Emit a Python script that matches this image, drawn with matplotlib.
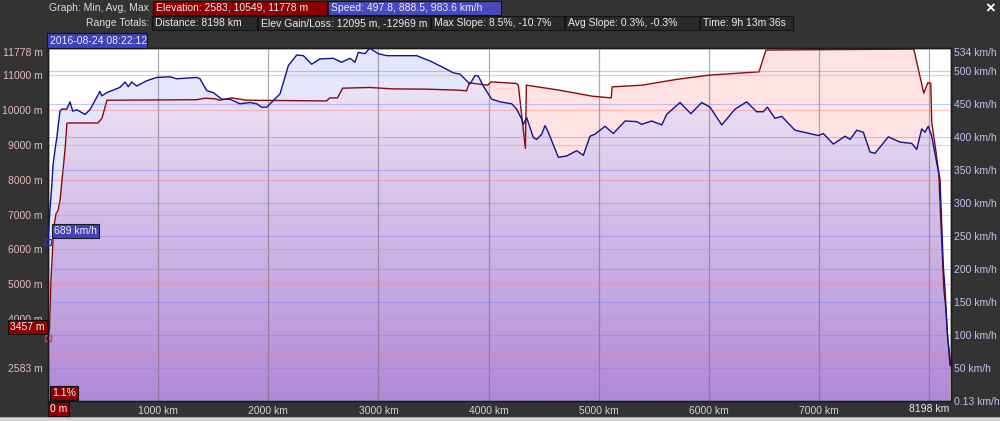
import numpy as np
import matplotlib
matplotlib.use("Agg")
import matplotlib.pyplot as plt
from matplotlib.patches import Rectangle

plt.rcParams['font.family'] = ['Liberation Sans', 'DejaVu Sans']
FS = 7.5

# ---------------------------------------------------------------
# Data (distance in km)
# ---------------------------------------------------------------
elev_dist = [0, 14, 27, 52, 73, 91, 109, 154, 172, 181, 453, 490, 535, 1351, 1423,
             1514, 1559, 1668, 1804, 2529, 2557, 2629, 2674, 2919, 3128, 3436, 3735,
             3799, 3826, 3989, 4025, 4252, 4270, 4334, 4343, 4642, 4941, 5113, 5122,
             5394, 5703, 6002, 6455, 6518, 7860, 7951, 7987, 8014, 8023, 8060, 8087,
             8105, 8114, 8132, 8150, 8168, 8198]
elev_m = [3457, 3742, 5097, 6626, 7030, 7116, 7404, 8846, 9625, 9634, 9634, 9769,
          10288, 10303, 10346, 10331, 10288, 10355, 10288, 10268, 10355, 10355, 10634,
          10655, 10614, 10606, 10577, 10557, 10787, 10721, 10816, 10770, 10721, 8904,
          10721, 10577, 10404, 10355, 10672, 10721, 10885, 11009, 11105, 11730, 11759,
          10490, 10787, 10779, 9663, 8846, 8183, 6828, 6251, 4895, 4319, 3453, 2650]

speed_dist = [0, 18, 34, 45, 64, 82, 94, 109, 124, 170, 200, 224, 261, 336, 381, 427,
              472, 488, 533, 654, 699, 729, 760, 805, 896, 987, 1108, 1168, 1350, 1380,
              1441, 1501, 1577, 1652, 1743, 1834, 1895, 1940, 1986, 2046, 2106, 2182,
              2258, 2318, 2394, 2469, 2590, 2666, 2742, 2787, 2817, 2878, 2908, 2923,
              2999, 3075, 3347, 3468, 3589, 3680, 3741, 3801, 3831, 3877, 3907, 3952,
              4028, 4104, 4210, 4255, 4300, 4315, 4346, 4406, 4436, 4482, 4512, 4542,
              4633, 4709, 4800, 4860, 4921, 4966, 5057, 5132, 5239, 5345, 5390, 5481,
              5572, 5617, 5738, 5836, 5935, 6010, 6117, 6237, 6343, 6434, 6494, 6531,
              6600, 6661, 6782, 6993, 7039, 7130, 7236, 7281, 7342, 7402, 7463, 7508,
              7629, 7735, 7842, 7887, 7932, 7962, 7992, 8023, 8068, 8098, 8114, 8128,
              8144, 8165, 8189]
speed_kmh = [240, 290, 325, 356, 381, 401, 419, 439, 442, 442, 453, 439, 441, 434, 441,
             455, 469, 462, 467, 475, 483, 476, 483, 477, 485, 490, 491, 488, 490, 488,
             470, 467, 457, 457, 450, 452, 450, 445, 445, 455, 465, 508, 524, 523, 510,
             518, 519, 513, 519, 513, 528, 526, 532, 534, 526, 523, 523, 515, 505, 497,
             495, 485, 480, 493, 492, 477, 457, 453, 450, 442, 427, 419, 429, 399, 396,
             404, 417, 407, 369, 371, 379, 372, 401, 404, 416, 405, 424, 423, 419, 424,
             418, 434, 452, 435, 452, 445, 418, 442, 453, 438, 438, 445, 428, 431, 410,
             402, 405, 389, 401, 396, 410, 407, 377, 375, 400, 392, 390, 381, 412, 407,
             416, 401, 361, 336, 265, 204, 168, 103, 54]

dist_max = 8198
elev_lim = (1650, 11778)
speed_lim = (0.13, 534)

elev_ticks = [2583, 3000, 4000, 5000, 6000, 7000, 8000, 9000, 10000, 11000, 11778]
elev_ticklabels = ['2583 m', '', '4000 m', '5000 m', '6000 m', '7000 m', '8000 m',
                   '9000 m', '10000 m', '11000 m', '11778 m']
speed_ticks = [0.13, 50, 100, 150, 200, 250, 300, 350, 400, 450, 500, 534]
speed_ticklabels = ['0.13 km/h', '50 km/h', '100 km/h', '150 km/h', '200 km/h',
                    '250 km/h', '300 km/h', '350 km/h', '400 km/h', '450 km/h',
                    '500 km/h', '534 km/h']
dist_ticks = [1000, 2000, 3000, 4000, 5000, 6000, 7000, 8000]
dist_ticklabels = ['1000 km', '2000 km', '3000 km', '4000 km', '5000 km', '6000 km',
                   '7000 km', '']

cursor_elev = 3457
cursor_speed = 240          # where the speed marker sits on the speed axis
cursor_speed_text = '689 km/h'
cursor_slope_text = '1.1%'
cursor_time_text = '2016-08-24 08:22:12'

header_stats = [('Elevation: 2583, 10549, 11778 m', 153, 327, '#8e0000'),
                ('Speed: 497.8, 888.5, 983.6 km/h', 328, 501, '#4848c0')]
header_totals = [('Distance: 8198 km', 152, 257),
                 ('Elev Gain/Loss: 12095 m, -12969 m', 258, 430),
                 ('Max Slope: 8.5%, -10.7%', 431, 564),
                 ('Avg Slope: 0.3%, -0.3%', 565, 699),
                 ('Time: 9h 13m 36s', 700, 793)]

# ---------------------------------------------------------------
W, H = 1000, 421
BG = '#333333'
RED = '#8c0a0a'
BLUE = '#12128e'
fig = plt.figure(figsize=(W / 100, H / 100), dpi=100, facecolor=BG)
ax = fig.add_axes([48 / W, 1 - 400.7 / H, 903 / W, (400.7 - 48.4) / H])
ax.set_facecolor('white')
ax2 = ax.twinx()

# speed area (only used as a clip shape)
spoly = ax2.fill_between(speed_dist, speed_kmh, speed_lim[0], facecolor='none',
                         edgecolor='none')
spath = spoly.get_paths()[0]

# elevation area, pink
ax.fill_between(elev_dist, elev_m, elev_lim[0], color='#ffe3e3', lw=0, zorder=0.5)

# purple gradient under speed
f = np.linspace(0, 1, 256)[:, None, None]
c_top = np.array([244, 238, 248]) / 255
c_bot = np.array([176, 136, 216]) / 255
grad = c_top + f * (c_bot - c_top)
im = ax.imshow(grad, extent=[0, dist_max, elev_lim[0], elev_lim[1]], aspect='auto',
               origin='upper', zorder=0.6, interpolation='bilinear')
im.set_clip_path(spath, ax2.transData)

# speed above elevation -> light blue
bo = ax.fill_between(elev_dist, elev_m, elev_lim[1], color='#e4e6fc', lw=0, zorder=0.7)
bo.set_clip_path(spath, ax2.transData)

ax.plot(elev_dist, elev_m, color=RED, lw=1.0, zorder=3)
ax2.plot(speed_dist, speed_kmh, color=BLUE, lw=1.0, zorder=3)

ax.set_xlim(0, dist_max)
ax.set_ylim(*elev_lim)
ax2.set_ylim(*speed_lim)

ax.set_axisbelow(False)
ax.grid(axis='y', color='#ff8080', alpha=0.45, lw=0.8)
ax.grid(axis='x', color='#6a6a6a', alpha=0.55, lw=0.9)
ax2.grid(axis='y', color='#8080ff', alpha=0.45, lw=0.8)

ax.set_yticks(elev_ticks, elev_ticklabels)
ax2.set_yticks(speed_ticks, speed_ticklabels)
ax.set_xticks(dist_ticks, dist_ticklabels)
ax.tick_params(axis='y', length=0, pad=4, labelsize=FS, labelcolor='#e6bcbc')
ax2.tick_params(axis='y', length=0, pad=2, labelsize=FS, labelcolor='#c2c2f2')
ax.tick_params(axis='x', length=0, pad=4, labelsize=FS, labelcolor='#d4d4d4')
ax.get_yticklabels()[-1].set_va('top')
ax2.get_yticklabels()[-1].set_va('top')

for a in (ax, ax2):
    for s in a.spines.values():
        s.set_color('#1a1a1a')
        s.set_linewidth(1)

# cursor markers and their labels
red_box = dict(boxstyle='square,pad=0.2', fc='#8e0000', ec='#111111', lw=0.8)
blue_box = dict(boxstyle='square,pad=0.2', fc='#4444b8', ec='#1a1a1a', lw=0.8)
ax.plot([0], [cursor_elev], marker='s', ms=5, mfc='none', mec='#ff2a2a', mew=1,
        clip_on=False, zorder=6)
ax2.plot([0], [cursor_speed], marker='s', ms=5, mfc='none', mec='#2a2aff', mew=1,
         clip_on=False, zorder=6)
ax.annotate(f'{cursor_elev} m', xy=(0, cursor_elev), xytext=(-3, 10.5),
            textcoords='offset pixels', ha='right', va='center', fontsize=FS,
            color='#f0f0f0', bbox=red_box, annotation_clip=False, zorder=7)
ax2.annotate(cursor_speed_text, xy=(0, cursor_speed), xytext=(6, 11),
             textcoords='offset pixels', ha='left', va='center', fontsize=FS,
             color='#f0f0f0', bbox=blue_box, annotation_clip=False, zorder=7)
ax2.annotate(cursor_slope_text, xy=(0, 0), xycoords='axes fraction', xytext=(4, 7.5),
             textcoords='offset pixels', ha='left', va='center', fontsize=FS,
             color='#f0f0f0', bbox=red_box, zorder=7)
ax2.annotate('0 m', xy=(0, 0), xycoords='axes fraction', xytext=(2, -8),
             textcoords='offset pixels', ha='left', va='center', fontsize=FS,
             color='#f0f0f0', bbox=red_box, annotation_clip=False)
ax2.annotate(f'{dist_max} km', xy=(1, 0), xycoords='axes fraction', xytext=(-2, -8.5),
             textcoords='offset pixels', ha='right', va='center', fontsize=FS,
             color='#ececec', annotation_clip=False)


# ---------------------------------------------------------------
# header boxes (pixel coordinates from top-left)
def hbox(x0, x1, y0, y1, text, fc, ec='#141414'):
    fig.add_artist(Rectangle((x0 / W, 1 - y1 / H), (x1 - x0) / W, (y1 - y0) / H,
                             transform=fig.transFigure, fc=fc, ec=ec, lw=0.8))
    fig.text((x0 + 3) / W, 1 - (y0 + y1) / 2 / H, text, color='#ececec', fontsize=FS,
             ha='left', va='center')


fig.text(149 / W, 1 - 8 / H, 'Graph: Min, Avg, Max', color='#dcdcdc', fontsize=FS,
         ha='right', va='center')
fig.text(149 / W, 1 - 23 / H, 'Range Totals:', color='#dcdcdc', fontsize=FS,
         ha='right', va='center')
for txt, x0, x1, fc in header_stats:
    hbox(x0, x1, 1, 15, txt, fc)
for txt, x0, x1 in header_totals:
    hbox(x0, x1, 16, 30, txt, '#2a2a2a')
hbox(47, 147, 33, 48, cursor_time_text, '#4040b8')
fig.text(990 / W, 1 - 9 / H, '×', color='white', fontsize=12, fontweight='bold',
         ha='center', va='center')

# bottom strip
fig.add_artist(Rectangle((0, 1 - 417.8 / H), 1, 1.2 / H, transform=fig.transFigure,
                         fc='#c8a050', ec='none'))
fig.add_artist(Rectangle((0, 0), 1, 3.2 / H, transform=fig.transFigure,
                         fc='#d2d2d2', ec='none'))

fig.savefig('out.png', dpi=100, facecolor=BG)
